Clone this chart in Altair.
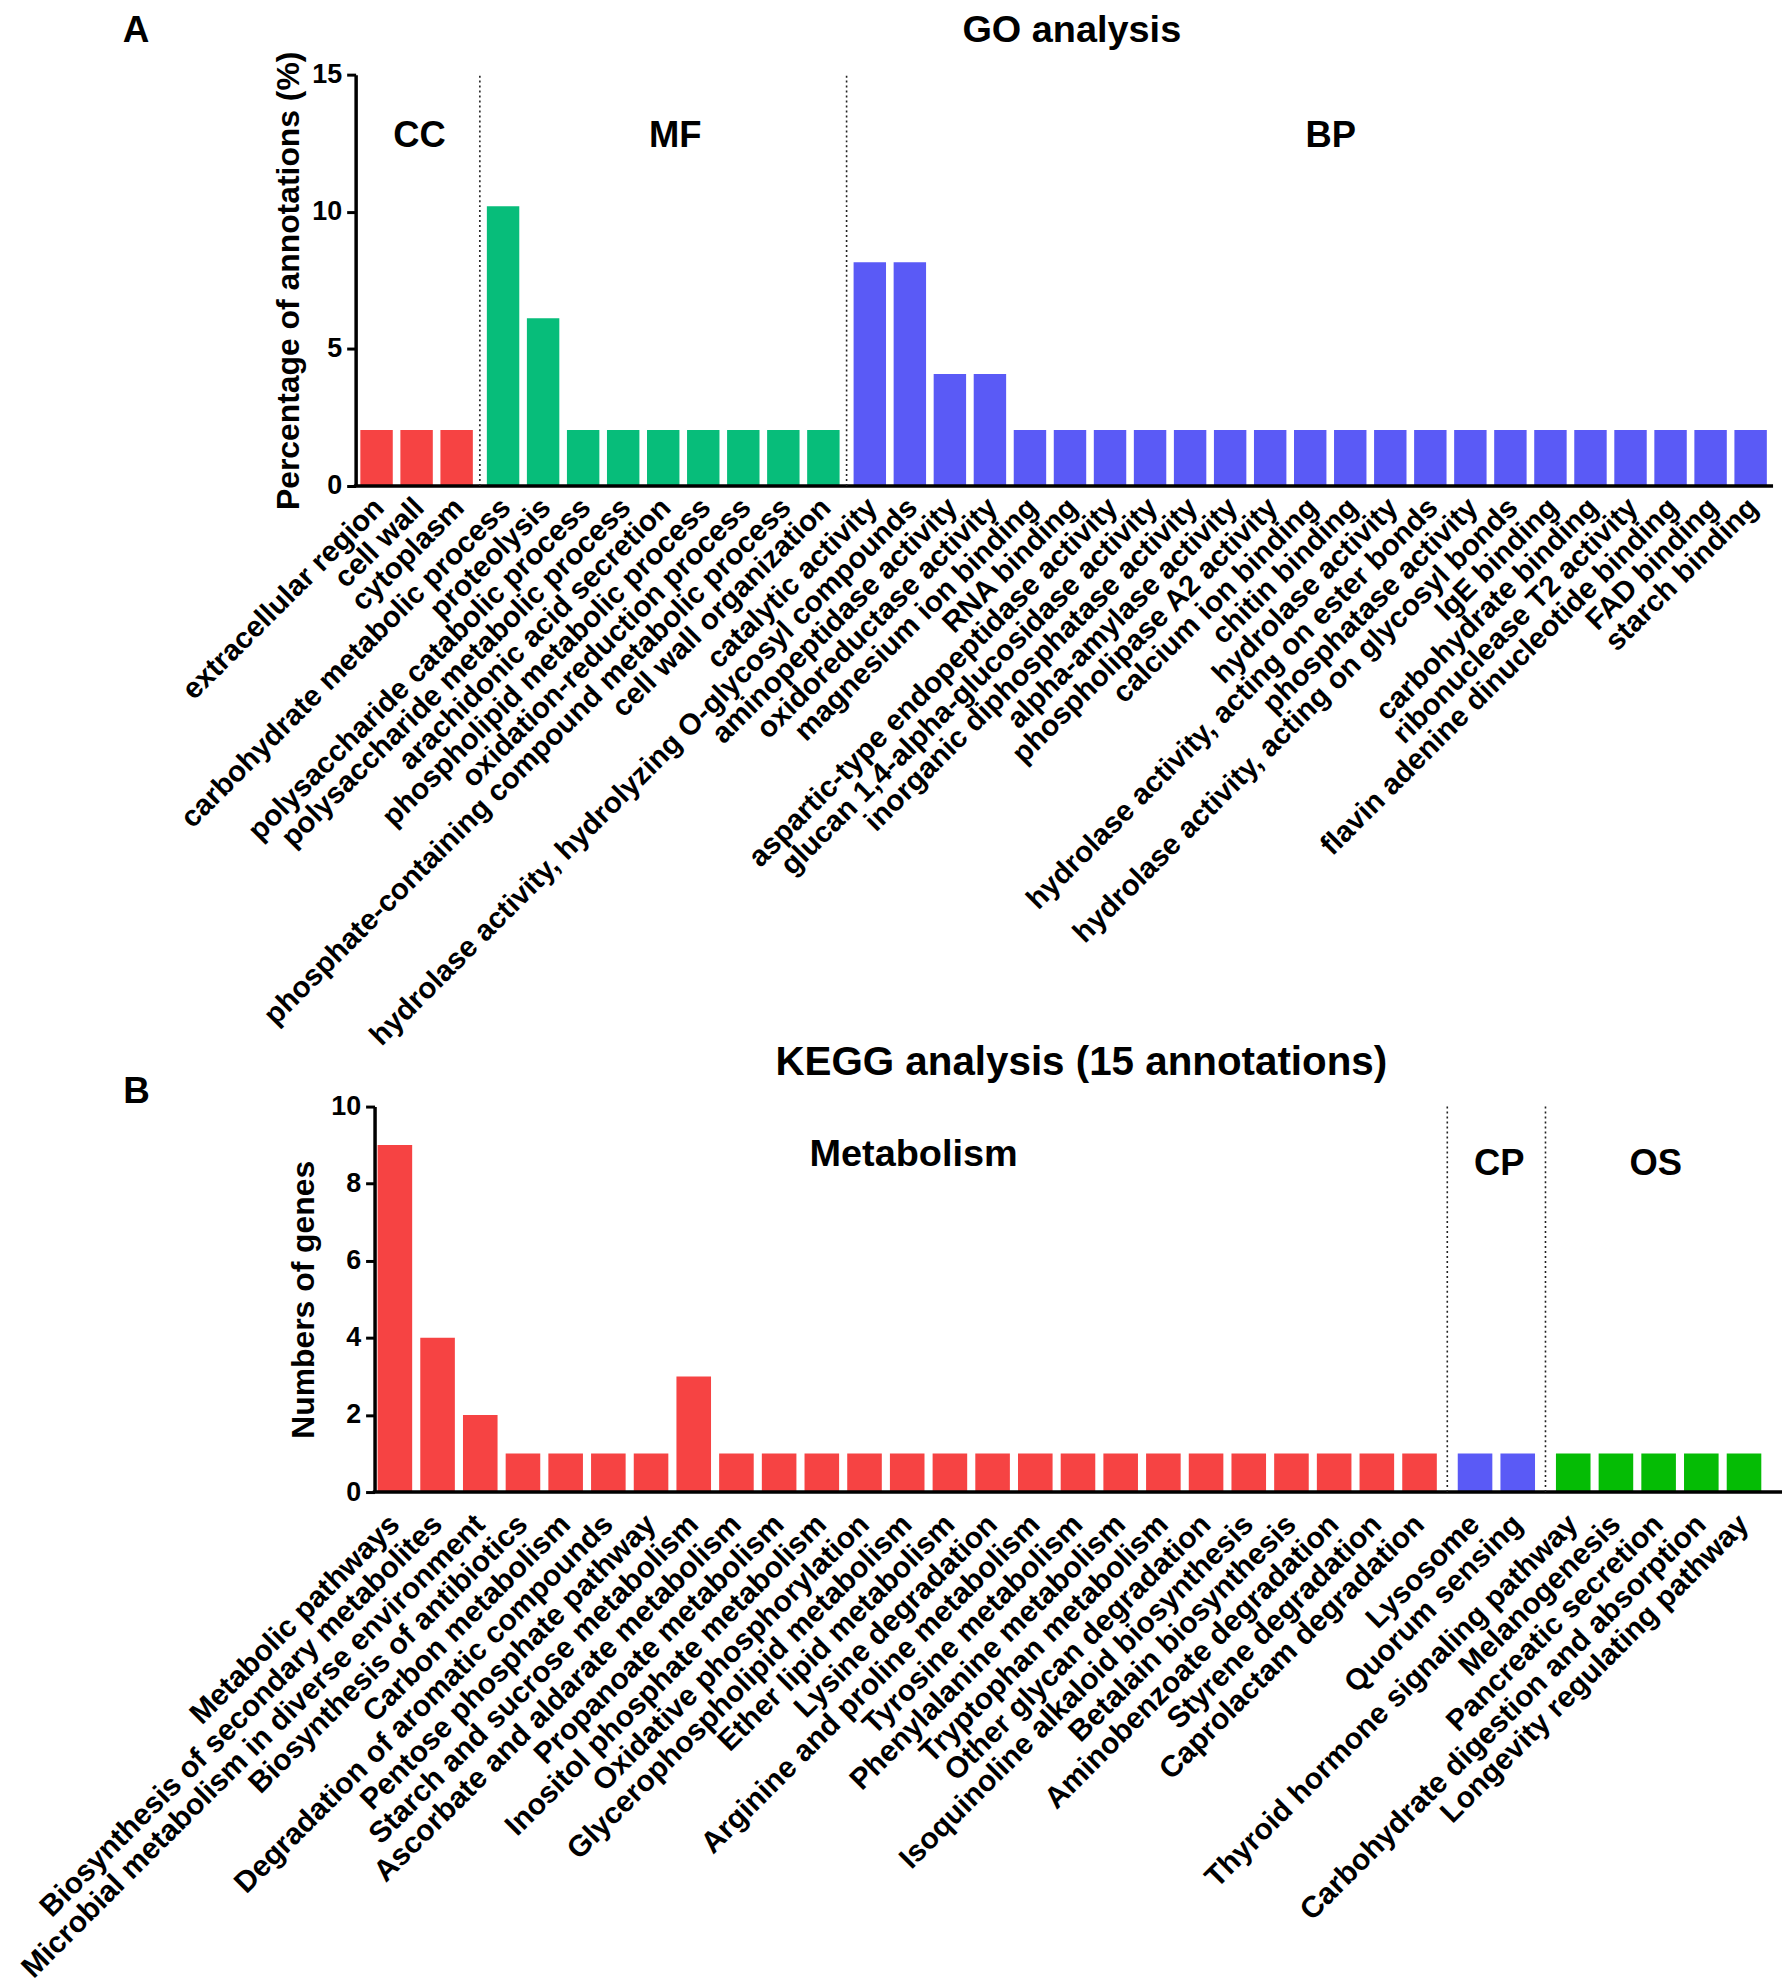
import altair as alt
import pandas as pd

FONT = "Liberation Sans, Arial, Helvetica, sans-serif"

# ---------------- GO analysis data ----------------
go_groups = ["CC", "MF", "BP"]
go_colors = ["#F64343", "#07BD7A", "#5A5AF6"]
go_cc_terms = ["extracellular region", "cell wall", "cytoplasm"]
go_cc_values = [2.04, 2.04, 2.04]
go_mf_terms = [
    "carbohydrate metabolic process", "proteolysis", "polysaccharide catabolic process",
    "polysaccharide metabolic process", "arachidonic acid secretion",
    "phospholipid metabolic process", "oxidation-reduction process",
    "phosphate-containing compound metabolic process", "cell wall organization",
]
go_mf_values = [10.2, 6.12, 2.04, 2.04, 2.04, 2.04, 2.04, 2.04, 2.04]
go_bp_terms = [
    "catalytic activity", "hydrolase activity, hydrolyzing O-glycosyl compounds",
    "aminopeptidase activity", "oxidoreductase activity", "magnesium ion binding",
    "RNA binding", "aspartic-type endopeptidase activity",
    "glucan 1,4-alpha-glucosidase activity", "inorganic diphosphatase activity",
    "alpha-amylase activity", "phospholipase A2 activity", "calcium ion binding",
    "chitin binding", "hydrolase activity", "hydrolase activity, acting on ester bonds",
    "phosphatase activity", "hydrolase activity, acting on glycosyl bonds", "IgE binding",
    "carbohydrate binding", "ribonuclease T2 activity",
    "flavin adenine dinucleotide binding", "FAD binding", "starch binding",
]
go_bp_values = [8.16, 8.16, 4.08, 4.08, 2.04, 2.04, 2.04, 2.04, 2.04, 2.04, 2.04, 2.04,
                2.04, 2.04, 2.04, 2.04, 2.04, 2.04, 2.04, 2.04, 2.04, 2.04, 2.04]
go_group_label_x = [1.07, 7.46, 23.83]

# ---------------- KEGG analysis data ----------------
kegg_groups = ["Metabolism", "CP", "OS"]
kegg_colors = ["#F64343", "#5A5AF6", "#05BC05"]
kegg_met_terms = [
    "Metabolic pathways", "Biosynthesis of secondary metabolites",
    "Microbial metabolism in diverse environment", "Biosynthesis of antibiotics",
    "Carbon metabolism", "Degradation of aromatic compounds", "Pentose phosphate pathway",
    "Starch and sucrose metabolism", "Ascorbate and aldarate metabolism",
    "Propanoate metabolism", "Inositol phosphate metabolism", "Oxidative phosphorylation",
    "Glycerophospholipid metabolism", "Ether lipid metabolism", "Lysine degradation",
    "Arginine and proline metabolism", "Tyrosine metabolism", "Phenylalanine metabolism",
    "Tryptophan metabolism", "Other glycan degradation", "Isoquinoline alkaloid biosynthesis",
    "Betalain biosynthesis", "Aminobenzoate degradation", "Styrene degradation",
    "Caprolactam degradation",
]
kegg_met_values = [9, 4, 2, 1, 1, 1, 1, 3, 1, 1, 1, 1, 1, 1, 1, 1, 1, 1, 1, 1, 1, 1, 1, 1, 1]
kegg_cp_terms = ["Lysosome", "Quorum sensing"]
kegg_cp_values = [1, 1]
kegg_os_terms = [
    "Thyroid hormone signaling pathway", "Melanogenesis", "Pancreatic secretion",
    "Carbohydrate digestion and absorption", "Longevity regulating pathway",
]
kegg_os_values = [1, 1, 1, 1, 1]
kegg_group_label_x = [12.15, 25.87, 29.53]


def build(groups, colors, term_lists, value_lists, gap):
    rows, plists, start = [], [], 0
    for k, (g, c, terms, vals) in enumerate(zip(groups, colors, term_lists, value_lists)):
        ps = [start + k * gap + i for i in range(len(terms))]
        plists.append(ps)
        for t, v, p in zip(terms, vals, ps):
            rows.append({"group": g, "color": c, "term": t, "value": v, "pos": p})
        start += len(terms)
    df = pd.DataFrame(rows)
    seps = pd.DataFrame({"b": [(plists[k][-1] + plists[k + 1][0]) / 2
                               for k in range(len(plists) - 1)]})
    return df, seps


def panel(df, seps, glabels, ymax, yvals, width, height, domain,
          axis_offset, ytitle, ytitle_x, title, title_size, title_x, title_y,
          letter, letter_x, letter_y, label_y, label_size, label_dx, bar_w):
    xs = alt.Scale(domain=domain, nice=False, zero=False)
    ys = alt.Scale(domain=[0, ymax], nice=False, zero=True)
    one = pd.DataFrame({"k": [0]})

    yaxis = alt.Axis(
        values=yvals, grid=False, domain=True, domainColor="black", domainWidth=3.5,
        ticks=True, tickColor="black", tickWidth=3, tickSize=9,
        labelFont=FONT, labelFontSize=27, labelFontWeight="bold", labelColor="black",
        labelPadding=5, labelFlush=False,
        title=ytitle, titleFont=FONT, titleFontSize=32, titleFontWeight="bold",
        titleColor="black", titleAngle=270, titleAlign="center",
        titleBaseline="alphabetic", titleX=ytitle_x, titleY=height / 2,
        offset=axis_offset,
    )
    bars = alt.Chart(df).transform_calculate(
        lo=f"datum.pos - {bar_w / 2}", hi=f"datum.pos + {bar_w / 2}"
    ).mark_bar().encode(
        x=alt.X("lo:Q", scale=xs, axis=alt.Axis(
            values=list(df["pos"]), labels=False, domain=False, grid=False, ticks=True,
            tickSize=10, tickWidth=3, tickColor="black", title=None)),
        x2="hi:Q",
        y=alt.Y("value:Q", scale=ys, axis=yaxis),
        y2=alt.datum(0),
        color=alt.Color("color:N", scale=None, legend=None),
    )
    baseline = alt.Chart(one).mark_rule(color="black", strokeWidth=3.5).encode(
        x=alt.value(-axis_offset - 1.75), x2=alt.value(width), y=alt.datum(0))
    sep = alt.Chart(seps).mark_rule(color="#222222", strokeWidth=1.6,
                                    strokeDash=[2, 3]).encode(
        x=alt.X("b:Q", scale=xs, axis=None), y=alt.datum(0), y2=alt.datum(ymax))
    xlabels = alt.Chart(df).mark_text(
        angle=315, align="right", baseline="middle", font=FONT, fontSize=label_size,
        fontWeight="bold", color="black", dx=label_dx).encode(
        x=alt.X("pos:Q", scale=xs, axis=None), y=alt.value(height + label_y),
        text="term:N")
    layers = [bars, baseline, sep, xlabels]
    for name, gx, gy, gs in glabels:
        layers.append(alt.Chart(pd.DataFrame({"label": [name], "x": [gx]})).mark_text(
            align="center", baseline="alphabetic", font=FONT, fontSize=gs,
            fontWeight="bold", color="black").encode(
            x=alt.X("x:Q", scale=xs, axis=None), y=alt.value(gy), text="label:N"))
    layers.append(alt.Chart(one).mark_text(
        align="center", baseline="alphabetic", font=FONT, fontSize=title_size,
        fontWeight="bold", color="black").encode(
        x=alt.value(title_x), y=alt.value(title_y), text=alt.value(title)))
    layers.append(alt.Chart(one).mark_text(
        align="center", baseline="alphabetic", font=FONT, fontSize=37,
        fontWeight="bold", color="black").encode(
        x=alt.value(letter_x), y=alt.value(letter_y), text=alt.value(letter)))
    return alt.layer(*layers).properties(width=width, height=height)


go_df, go_seps = build(go_groups, go_colors, [go_cc_terms, go_mf_terms, go_bp_terms],
                       [go_cc_values, go_mf_values, go_bp_values], 0.16)
kegg_df, kegg_seps = build(kegg_groups, kegg_colors,
                           [kegg_met_terms, kegg_cp_terms, kegg_os_terms],
                           [kegg_met_values, kegg_cp_values, kegg_os_values], 0.3)

top = panel(
    go_df, go_seps,
    [(g, x, 73, 36.5) for g, x in zip(go_groups, go_group_label_x)],
    15, [0, 5, 10, 15], 1404, 413, [-0.05, 34.88], 19,
    "Percentage of annotations (%)", -57, "GO analysis", 38, 700, -33,
    "A", -239.5, -33, 20, 29.5, 4, 0.81)

bottom = panel(
    kegg_df, kegg_seps,
    [("Metabolism", kegg_group_label_x[0], 60, 38), ("CP", kegg_group_label_x[1], 69, 36.5),
     ("OS", kegg_group_label_x[2], 69, 36.5)],
    10, [0, 2, 4, 6, 8, 10], 1413, 387, [-0.476, 32.49], 0,
    "Numbers of genes", -61, "KEGG analysis (15 annotations)", 40.5, 709.5, -32,
    "B", -239, -4, 28, 30, 0, 0.81)

chart = alt.vconcat(top, bottom, spacing=-9).properties(
    background="white", padding={"left": 8, "top": 0, "right": 0, "bottom": 0}
).configure_view(stroke=None)

chart.save("out.html", embed_options={"renderer": "svg", "actions": False})
